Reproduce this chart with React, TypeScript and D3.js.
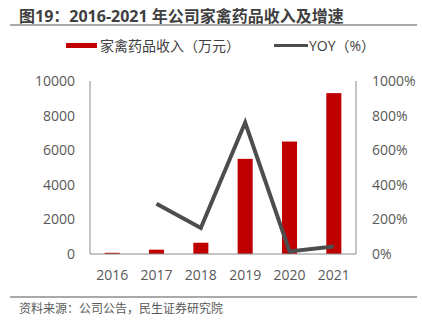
import React from "react";
import * as d3 from "d3";

const years = ["2016", "2017", "2018", "2019", "2020", "2021"];
const revenue = [70, 250, 650, 5500, 6500, 9300];
const yoyYears = ["2017", "2018", "2019", "2020", "2021"];
const yoy = [290, 150, 760, 15, 44];
const leftTicks = [0, 2000, 4000, 6000, 8000, 10000];
const rightTicks = [0, 200, 400, 600, 800, 1000];

const W = 422;
const H = 333;
const plot = { left: 90, right: 356, top: 81, bottom: 254 };
const FONT = "'Open Sans', 'Noto Sans CJK SC', sans-serif";

export default function App() {
  const x = d3.scaleBand().domain(years).range([plot.left, plot.right]).paddingInner(0.66).paddingOuter(0.33);
  const yL = d3.scaleLinear().domain([0, 10000]).range([plot.bottom, plot.top]);
  const yR = d3.scaleLinear().domain([0, 1000]).range([plot.bottom, plot.top]);
  const line = d3
    .line<number>()
    .x((_, i) => (x(yoyYears[i]) as number) + x.bandwidth() / 2)
    .y((d) => yR(d));

  return (
    <svg width={W} height={H} style={{ position: "absolute", left: 0, top: 0, background: "#fff" }} fontFamily={FONT}>
      <text x={19} y={22} fontSize={16} fontWeight="bold" fill="#3f3f3f">
        图19：2016-2021 年公司家禽药品收入及增速
      </text>
      <line x1={10} x2={417} y1={25} y2={25} stroke="#555" strokeWidth={1.2} />

      {/* legend */}
      <rect x={66} y={43} width={31} height={5} fill="#c00000" />
      <text x={100} y={51} fontSize={14} fill="#404040">家禽药品收入（万元）</text>
      <line x1={274} x2={308} y1={45.5} y2={45.5} stroke="#4d4d4d" strokeWidth={3} />
      <text x={309} y={51} fontSize={14} fill="#404040">YOY（%）</text>

      {/* bars */}
      {revenue.map((v, i) => (
        <rect
          key={years[i]}
          x={x(years[i]) as number}
          y={yL(v)}
          width={x.bandwidth()}
          height={plot.bottom - yL(v)}
          fill="#c00000"
        />
      ))}

      {/* axes */}
      <line x1={plot.left} x2={plot.left} y1={plot.top} y2={plot.bottom} stroke="#8c8c8c" strokeWidth={1} />
      <line x1={plot.right} x2={plot.right} y1={plot.top} y2={plot.bottom} stroke="#8c8c8c" strokeWidth={1} />
      <line x1={plot.left} x2={plot.right} y1={plot.bottom} y2={plot.bottom} stroke="#8c8c8c" strokeWidth={1.2} />

      {/* line */}
      <path d={line(yoy) || ""} fill="none" stroke="#4d4d4d" strokeWidth={4} strokeLinejoin="miter" />

      {leftTicks.map((t) => (
        <text key={"l" + t} x={75} y={yL(t) + 5} fontSize={14} fill="#595959" textAnchor="end">
          {t}
        </text>
      ))}
      {rightTicks.map((t) => (
        <text key={"r" + t} x={372} y={yR(t) + 5} fontSize={14} fill="#595959" textAnchor="start">
          {t + "%"}
        </text>
      ))}
      {years.map((yv) => (
        <text key={yv} x={(x(yv) as number) + x.bandwidth() / 2} y={280} fontSize={14} fill="#595959" textAnchor="middle">
          {yv}
        </text>
      ))}

      <line x1={10} x2={417} y1={297} y2={297} stroke="#555" strokeWidth={1.2} />
      <text x={19} y={313} fontSize={12} fill="#595959" fontFamily="'Noto Sans CJK SC', sans-serif">
        资料来源：公司公告，民生证券研究院
      </text>
    </svg>
  );
}
